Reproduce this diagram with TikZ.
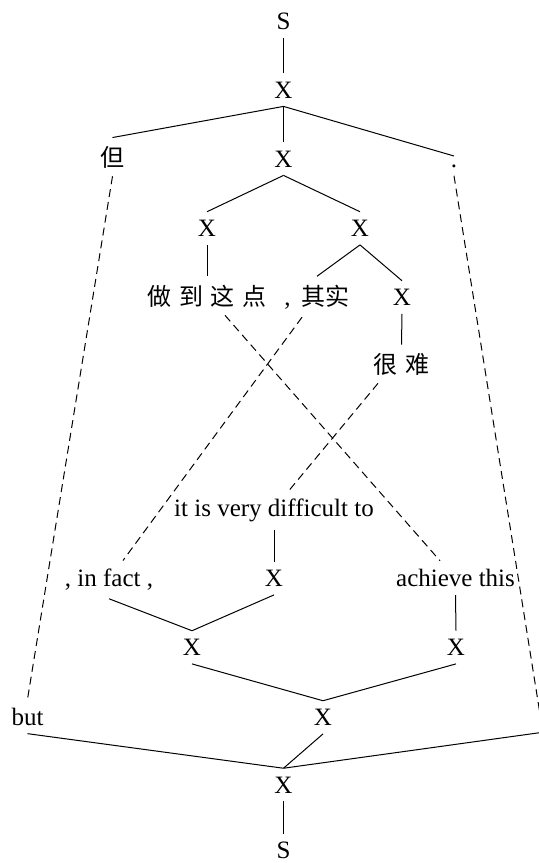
\documentclass[tikz,border=0pt]{standalone}
\usepackage{fontspec}
\setmainfont{Liberation Serif}
\newfontfamily\cjk{Noto Sans CJK SC}
\newcommand\cjkgap{\hspace{3.85pt}}
\begin{document}
\begin{tikzpicture}[x=0.5pt,y=-0.5pt,
  every node/.style={inner sep=4pt, font=\fontsize{12.5}{15}\selectfont, anchor=base},
  cjktext/.style={font=\fontsize{12}{14}\selectfont\cjk},
  treeline/.style={line width=0.5pt},
  alnline/.style={line width=0.5pt, dash pattern=on 4pt off 2.5pt}]
\useasboundingbox (0,0) rectangle (539,863);
% upper (Chinese) tree
\node (S1) at (283.5,29.5) {S};
\node (X1) at (283.5,98) {X};
\node[cjktext] (dan) at (112.5,166) {但};
\node (X2) at (283.5,167) {X};
\node (dotA) at (454,167) {.};
\node (X3) at (207,236.5) {X};
\node (X4) at (360,236.5) {X};
\node[cjktext] (zuo) at (207,305) {做\cjkgap 到\cjkgap 这\cjkgap 点};
\node (qishi) at (317,305) {,\hspace{5.5pt}{\fontsize{12}{14}\selectfont\cjk 其实}};
\node (X5) at (402,305.5) {X};
\node[cjktext] (hen) at (401.5,373) {很\cjkgap 难};
% lower (English) tree
\node (diff) at (274,516.5) {it is very difficult to};
\node (infact) at (109,586.5) {, in fact ,};
\node (X6) at (274,586.5) {X};
\node (ach) at (455.5,586.5) {achieve this};
\node (X7) at (192,655.5) {X};
\node (X8) at (456,655.5) {X};
\node (but) at (27.5,725) {but};
\node (X9) at (323,725.5) {X};
\node (X10) at (283.5,793) {X};
\node (S2) at (283.5,858.5) {S};
\coordinate (dotBn) at (540,714);
\coordinate (dotBs) at (541,732.5);
% tree edges
\draw[treeline] (S1.south) -- (X1.north);
\draw[treeline] (X1.south) -- (dan.north);
\draw[treeline] (X1.south) -- (X2.north);
\draw[treeline] (X1.south) -- (dotA.north);
\draw[treeline] (X2.south) -- (X3.north);
\draw[treeline] (X2.south) -- (X4.north);
\draw[treeline] (X3.south) -- (zuo.north);
\draw[treeline] (X4.south) -- (qishi.north);
\draw[treeline] (X4.south) -- (X5.north);
\draw[treeline] (X5.south) -- (hen.north);
\draw[treeline] (diff.south) -- (X6.north);
\draw[treeline] (infact.south) -- (X7.north);
\draw[treeline] (X6.south) -- (X7.north);
\draw[treeline] (ach.south) -- (X8.north);
\draw[treeline] (X7.south) -- (X9.north);
\draw[treeline] (X8.south) -- (X9.north);
\draw[treeline] (but.south) -- (X10.north);
\draw[treeline] (X9.south) -- (X10.north);
\draw[treeline] (dotBs) -- (X10.north);
\draw[treeline] (X10.south) -- (S2.north);
% alignment links
\draw[alnline] (dan.south) -- (but.north);
\draw[alnline] (dotA.south) -- (dotBn);
\draw[alnline] ([xshift=9pt]zuo.south) -- ([xshift=-7.75pt]ach.north);
\draw[alnline] ([xshift=-7.5pt]qishi.south) -- ([xshift=7pt]infact.north);
\draw[alnline] ([xshift=-11.75pt]hen.south) -- ([xshift=7.5pt]diff.north);
\end{tikzpicture}
\end{document}
